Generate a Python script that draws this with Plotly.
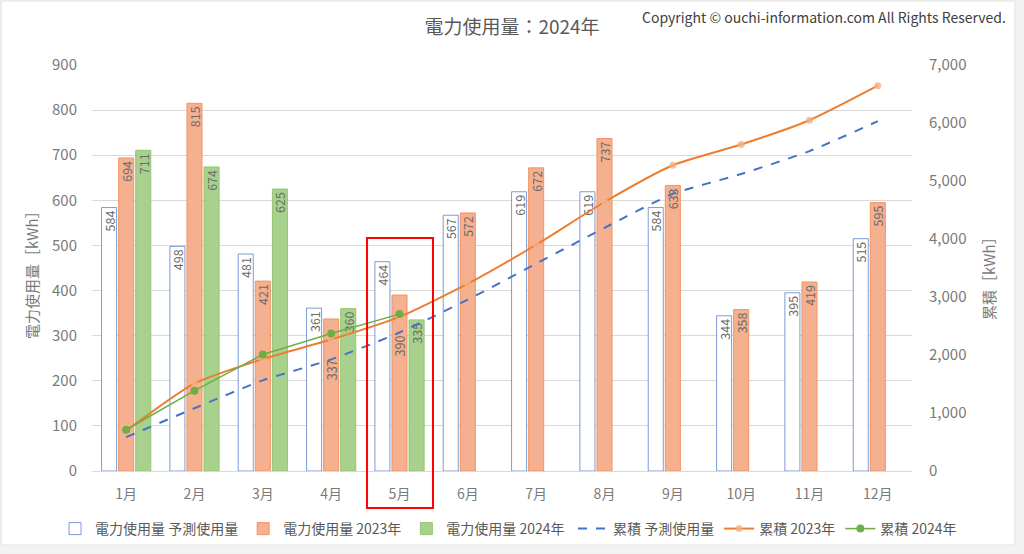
import plotly.graph_objects as go

months = ["1月", "2月", "3月", "4月", "5月", "6月", "7月", "8月", "9月", "10月", "11月", "12月"]
usage_pred = [584, 498, 481, 361, 464, 567, 619, 619, 584, 344, 395, 515]
usage_2023 = [694, 815, 421, 337, 390, 572, 672, 737, 633, 358, 419, 595]
usage_2024 = [711, 674, 625, 360, 335, None, None, None, None, None, None, None]
cum_pred = [584, 1082, 1563, 1924, 2388, 2955, 3574, 4193, 4777, 5121, 5516, 6031]
cum_2023 = [694, 1509, 1930, 2267, 2657, 3229, 3901, 4638, 5271, 5629, 6048, 6643]
cum_2024 = [711, 1385, 2010, 2370, 2705, None, None, None, None, None, None, None]
left_ticks = [0, 100, 200, 300, 400, 500, 600, 700, 800, 900]
right_ticks = [0, 1000, 2000, 3000, 4000, 5000, 6000, 7000]
# months whose 2023 data label was moved down (away from the lines) in the original
moved_label_months = ["4月", "5月"]

W, H = 1024, 554
ML, MR, MT, MB = 92, 112, 65, 83
PW, PH = W - ML - MR, H - MT - MB

def px(x):
    return (x - ML) / PW

def py(y):
    return (H - MB - y) / PH

FONT = "Noto Sans CJK JP"
GREY = "#595959"
TICK = "#7a7a7a"
LBL = "#6a6a6a"

labels_2023 = [str(v) + ("\u3000" * 3 if m in moved_label_months else "")
               for m, v in zip(months, usage_2023)]

fig = go.Figure()

bar_text = dict(textposition="inside", textangle=-90,
                insidetextanchor="end", constraintext="none",
                textfont=dict(color=LBL, size=12.5, family=FONT))

fig.add_trace(go.Bar(
    x=months, y=usage_pred, name="電力使用量 予測使用量", legend="legend",
    marker=dict(color="white", line=dict(color="rgba(68,114,196,0.7)", width=1)),
    texttemplate="%{y}", **bar_text,
))
fig.add_trace(go.Bar(
    x=months, y=usage_2023, name="電力使用量 2023年", legend="legend",
    marker=dict(color="#F5B08F", line=dict(color="#F29463", width=1)),
    text=labels_2023, texttemplate="%{text}", **bar_text,
))
fig.add_trace(go.Bar(
    x=months, y=usage_2024, name="電力使用量 2024年", legend="legend",
    marker=dict(color="#A9D18E", line=dict(color="#93C572", width=1)),
    texttemplate="%{y}", **bar_text,
))
fig.add_trace(go.Scatter(
    x=months, y=cum_pred, name="累積 予測使用量", yaxis="y2", mode="lines", legend="legend2",
    line=dict(color="#4472C4", width=2, dash="dash", shape="spline", smoothing=0.6),
))
fig.add_trace(go.Scatter(
    x=months, y=cum_2023, name="累積 2023年", yaxis="y2", mode="lines+markers", legend="legend2",
    line=dict(color="#ED7D31", width=2, shape="spline", smoothing=0.6),
    marker=dict(color="rgba(244,177,131,0.8)", size=7),
))
fig.add_trace(go.Scatter(
    x=months, y=cum_2024, name="累積 2024年", yaxis="y2", mode="lines+markers", legend="legend2",
    line=dict(color="#70AD47", width=1.5),
    marker=dict(color="#70AD47", size=8),
))

shapes = [
    dict(type="rect", xref="paper", yref="paper", layer="below",
         x0=px(1), x1=px(1015), y0=py(545), y1=py(1),
         fillcolor="white", line=dict(color="#e2e2e2", width=1)),
    dict(type="rect", xref="x", yref="paper", layer="above",
         x0=3.525, x1=4.49, y0=py(508), y1=py(238),
         line=dict(color="#FF0000", width=2), fillcolor="rgba(0,0,0,0)"),
]

annotations = [
    dict(text="Copyright © ouchi-information.com All Rights Reserved.",
         xref="paper", yref="paper", x=px(1008), y=py(17), xanchor="right", yanchor="middle",
         showarrow=False, font=dict(family=FONT, size=14, color="#404040")),
    dict(text="電力使用量［kWh］", xref="paper", yref="paper", x=px(31), y=py(271),
         textangle=-90, showarrow=False, xanchor="center", yanchor="middle",
         font=dict(family=FONT, size=15, color=TICK)),
    dict(text="累積［kWh］", xref="paper", yref="paper", x=px(988), y=py(275),
         textangle=-90, showarrow=False, xanchor="center", yanchor="middle",
         font=dict(family=FONT, size=15, color=TICK)),
]

legend_style = dict(orientation="h", xref="paper", yref="paper", xanchor="left",
                    y=py(529), yanchor="middle",
                    font=dict(family=FONT, size=14, color=GREY), bgcolor="rgba(0,0,0,0)",
                    itemwidth=30, traceorder="normal")

fig.update_layout(
    width=W, height=H,
    margin=dict(l=ML, r=MR, t=MT, b=MB, autoexpand=False),
    paper_bgcolor="#f2f2f2", plot_bgcolor="rgba(0,0,0,0)",
    font=dict(family=FONT, color=GREY, size=14),
    title=dict(text="電力使用量：2024年", x=512 / W, xanchor="center", y=1 - 27 / H, yanchor="middle",
               font=dict(family=FONT, size=19, color=GREY)),
    barmode="group", bargap=0.25, bargroupgap=0.12,
    showlegend=True,
    legend=dict(x=px(55), **legend_style),
    legend2=dict(x=px(573), **legend_style),
    xaxis=dict(range=[-0.5, 11.5], showgrid=False, showline=True, linecolor="#d9d9d9", ticks="",
               tickfont=dict(size=14, color=TICK), ticklabelstandoff=10),
    yaxis=dict(range=[0, 900], tickvals=left_ticks, showgrid=True, gridcolor="#d9d9d9",
               zeroline=False, ticks="", ticklabelstandoff=14,
               tickfont=dict(size=15, color=TICK)),
    yaxis2=dict(range=[0, 7000], tickvals=right_ticks, overlaying="y", side="right",
                showgrid=False, zeroline=False, ticks="", tickformat=",d",
                ticklabelstandoff=16, tickfont=dict(size=15, color=TICK)),
    shapes=shapes, annotations=annotations,
)

fig.write_html("out.html")
